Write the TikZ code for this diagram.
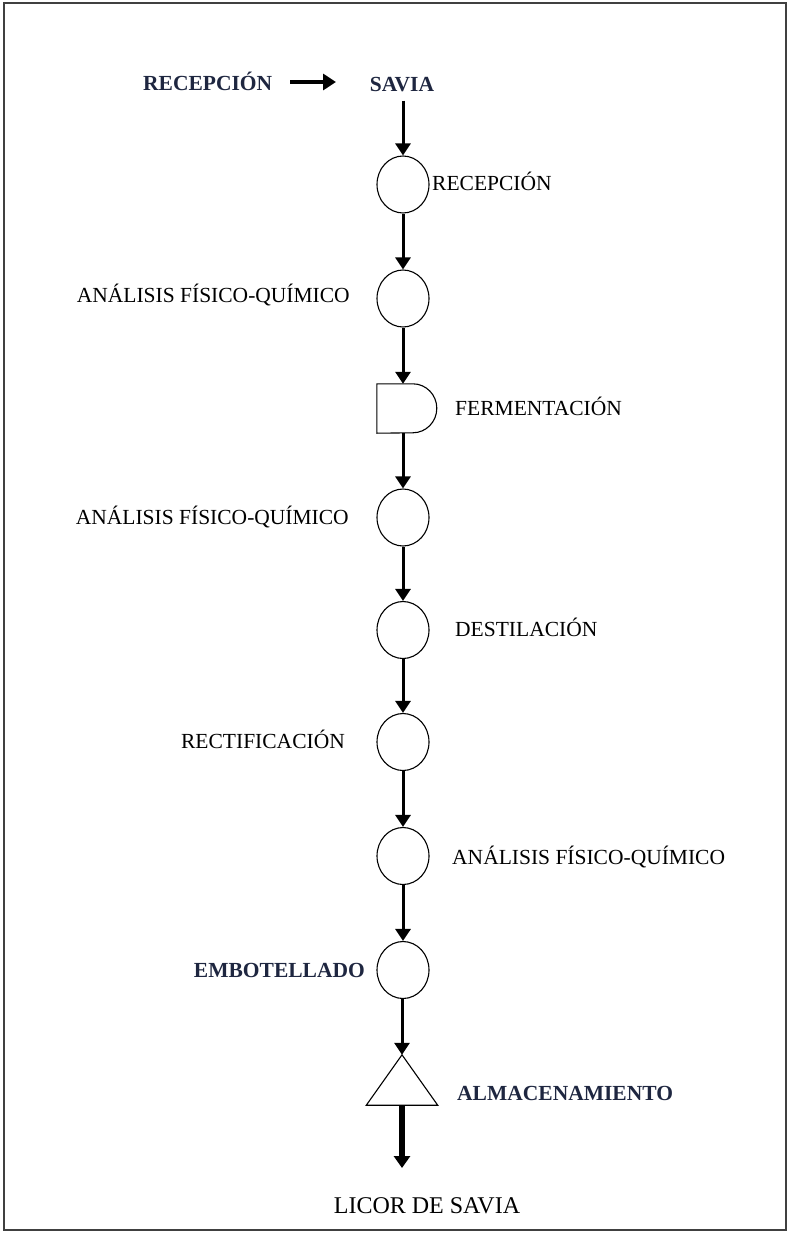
\documentclass[tikz,border=0pt]{standalone}
\usepackage{fontspec}
\setmainfont{Liberation Serif}
\usetikzlibrary{arrows.meta,shapes.geometric,calc}
\definecolor{ink}{HTML}{1E2640}
\definecolor{framegray}{HTML}{404040}

\begin{document}
\begin{tikzpicture}[x=1pt,y=-1pt,
  flow/.style={line width=3pt,-{Triangle[width=15pt,length=12pt]}},
  bigflow/.style={line width=4.5pt,-{Triangle[width=16pt,length=13pt]}},
  outflow/.style={line width=6pt,-{Triangle[width=16pt,length=12pt]}},
  op/.style={draw,line width=1.1pt,ellipse,minimum width=52pt,minimum height=57pt,inner sep=0pt},
  outline/.style={draw,line width=1.1pt},
  lbl/.style={font=\fontsize{21.5}{24}\selectfont,inner sep=0pt},
  blbl/.style={font=\fontsize{21.5}{24}\selectfont\bfseries,text=ink,inner sep=0pt}]

\useasboundingbox (0,0) rectangle (789,1233);
\draw[framegray,line width=2.6pt] (4,3) rectangle (786,1230);

% input line
\node[blbl,anchor=base west] (src) at (143,91) {RECEPCIÓN};
\node[blbl,anchor=base] (savia) at (402,92) {SAVIA};
\coordinate (inA) at (290,82);
\coordinate (inB) at (336,82);
\draw[bigflow] (inA) -- (inB);

% process column
\node[op] (c1) at (403,184.5) {};
\node[op] (c2) at (403,298.5) {};
\node[minimum width=60pt,minimum height=49pt,inner sep=0pt] (ferm) at (407,408.5) {};
\draw[outline,line join=miter] (ferm.north west) -- ++(36,0)
  arc[start angle=90,end angle=-90,x radius=24pt,y radius=24.5pt]
  -- (ferm.south west) -- cycle;
\node[op] (c3) at (403,517.5) {};
\node[op] (c4) at (403,630) {};
\node[op] (c5) at (403,742) {};
\node[op] (c6) at (403,856) {};
\node[op] (c7) at (403,970) {};
\node[minimum width=71pt,minimum height=50pt,inner sep=0pt] (alm) at (402,1080) {};
\draw[outline] (alm.south west) -- (alm.north) -- (alm.south east) -- cycle;

% labels
\node[lbl,anchor=base west] (l1) at (432,191) {RECEPCIÓN};
\node[lbl,anchor=base east] (l2) at (350,302) {ANÁLISIS FÍSICO-QUÍMICO};
\node[lbl,anchor=base west] (l3) at (455,415) {FERMENTACIÓN};
\node[lbl,anchor=base east] (l4) at (349,524) {ANÁLISIS FÍSICO-QUÍMICO};
\node[lbl,anchor=base west] (l5) at (455,636) {DESTILACIÓN};
\node[lbl,anchor=base east] (l6) at (345,748) {RECTIFICACIÓN};
\node[lbl,anchor=base west] (l7) at (452,864) {ANÁLISIS FÍSICO-QUÍMICO};
\node[blbl,anchor=base east] (l8) at (365,977) {EMBOTELLADO};
\node[blbl,anchor=base west] (l9) at (457,1100) {ALMACENAMIENTO};
\node[font=\fontsize{24}{28}\selectfont,inner sep=0pt,anchor=base] (licor) at (427,1213) {LICOR DE SAVIA};
\coordinate (out) at (402,1168);

% connectors
\draw[flow] ($(c1.north |- savia.south)+(0,8)$) -- (c1.north);
\draw[flow] (c1.south) -- (c2.north);
\draw[flow] (c2.south) -- (c2.south |- ferm.north);
\draw[flow] (c3.north |- ferm.south) -- (c3.north);
\draw[flow] (c3.south) -- (c4.north);
\draw[flow] (c4.south) -- (c5.north);
\draw[flow] (c5.south) -- (c6.north);
\draw[flow] (c6.south) -- (c7.north);
\draw[flow] (c7.south -| alm.north) -- (alm.north);
\draw[outflow] (alm.south) -- (out);
\end{tikzpicture}
\end{document}
